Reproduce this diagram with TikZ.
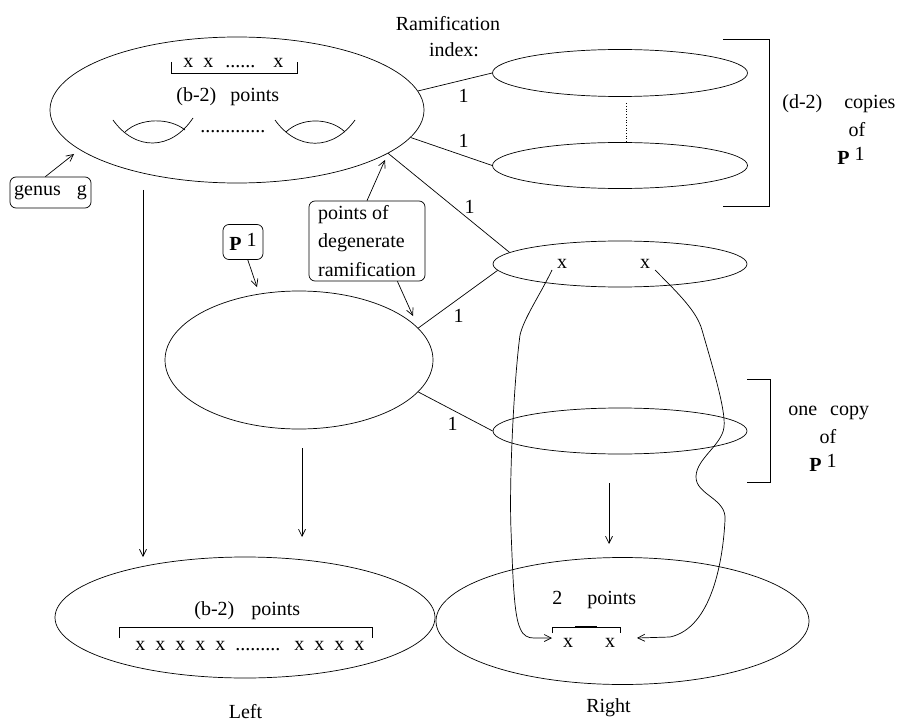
\documentclass[tikz,border=0pt]{standalone}
\usepackage{fontspec}
\setmainfont{Liberation Serif}
\usetikzlibrary{arrows.meta,shapes.geometric}
\newcommand{\Pone}{\textbf{P}\hspace{5pt}\raisebox{4pt}{1}}
\begin{document}
\begin{tikzpicture}[x=1pt,y=-1pt,line width=0.7pt,
  every node/.style={font=\fontsize{20}{27}\selectfont},
  ell/.style={draw,ellipse,inner sep=0pt},
  txt/.style={anchor=base,inner sep=0pt},
  txtw/.style={anchor=base west,inner sep=0pt},
  rbox/.style={draw,rounded corners=6pt,inner sep=0pt},
  arr/.style={-{Straight Barb[length=7pt,width=7pt]}},
  brk/.style={line width=0.7pt}]
\useasboundingbox (0,0) rectangle (899,722);
% ellipses
\node[ell,minimum width=374,minimum height=146] (T) at (237,110) {};
\node[ell,minimum width=268,minimum height=138] (M) at (299,360) {};
\node[ell,minimum width=255,minimum height=47] (R1) at (620,73) {};
\node[ell,minimum width=255,minimum height=46] (R2) at (620,165.5) {};
\node[ell,minimum width=254,minimum height=46] (R3) at (620,264) {};
\node[ell,minimum width=254,minimum height=46] (R4) at (620,431) {};
\node[ell,minimum width=380,minimum height=121] (BL) at (245,617.5) {};
\node[ell,minimum width=373,minimum height=127] (BR) at (622.5,621) {};
% top ellipse contents
\node[txt] (ram) at (448,31) {Ramification};
\node[txt] (idx) at (454,57) {index:};
\node[txtw] (tx) at (183,68) {x\hspace{10pt}x\hspace{12pt}......\hspace{18pt}x};
\draw[brk] (171,62) -- (171,73) -- (297,73) -- (297,62);
\node[txtw] (tb) at (176,102) {(b-2)\hspace{14pt}points};
\draw (113,120) .. controls (135,151) and (171,151) .. (193,118);
\draw (125,132) .. controls (140,117.5) and (170,117.5) .. (185,130);
\draw (275,120) .. controls (297,151) and (333,151) .. (355,120);
\draw (286,132) .. controls (301,117.3) and (330,117.3) .. (345,132);
\node[txtw] (tdots) at (200,133) {.............};
% index labels
\node[txt] (l1) at (463.5,103) {1};
\node[txt] (l2) at (463.5,148) {1};
\node[txt] (l3) at (469.5,213) {1};
\node[txt] (l4) at (458.5,322) {1};
\node[txt] (l5) at (452.5,430) {1};
% connectors
\draw (T.6) -- (R1.west);
\draw (T.-9) -- (R2.west);
\draw (T.-16) -- (R3.174);
\draw (M.15) -- (R3.183);
\draw (M.-15) -- (R4.west);
\draw[dotted] ([xshift=6pt,yshift=-6.5pt]R1.south) -- ([xshift=6pt]R2.north);
% right brackets and texts
\draw[brk] (723,39) -- (769,39) -- (769,206) -- (723,206);
\node[txtw] (dc) at (782,109) {(d-2)\hspace{22pt}copies};
\node[txt] (dof) at (857,137) {of};
\node[txt] (dP) at (851,165) {\Pone};
\draw[brk] (747,379) -- (770,379) -- (770,482) -- (747,482);
\node[txtw] (oc) at (788,415) {one\hspace{13pt}copy};
\node[txt] (oof) at (828,443) {of};
\node[txt] (oP) at (823,471) {\Pone};
% boxes
\node[rbox,minimum width=81,minimum height=31] (g) at (50.5,192.5) {genus\hspace{16pt}g};
\node[rbox,minimum width=116,minimum height=80,align=left,font=\fontsize{20}{28.5}\selectfont] (pd) at (367,241) {points of\\degenerate\\ramification};
\node[rbox,minimum width=40,minimum height=35] (p1) at (243,242) {\Pone};
\coordinate (gt) at (74,154);
\draw[arr] (g.108) -- (gt);
\coordinate (pt1) at (385,160);
\draw[arr] (pd.north) -- (pt1);
\coordinate (pt2) at (413,316);
\draw[arr] (pd.-53) -- (pt2);
\coordinate (pp) at (257,287);
\draw[arr] (p1.-75) -- (pp);
% vertical arrows
\coordinate (v1s) at (143,190); \coordinate (v1e) at (143,557);
\coordinate (v2s) at (302,448); \coordinate (v2e) at (302,537);
\coordinate (v3s) at (609,483); \coordinate (v3e) at (609,544);
\draw[arr] (v1s) -- (v1e);
\draw[arr] (v2s) -- (v2e);
\draw[arr] (v3s) -- (v3e);
% x's on R3 and curves
\node[txt] (x1) at (562,268) {x};
\node[txt] (x2) at (645,268) {x};
\coordinate (cl0) at (552,270);
\coordinate (cl1) at (552,638);
\draw[arr] (cl0) .. controls (540,295) and (524,318) .. (520,335) .. controls (514,380) and (509,480) .. (511,530) .. controls (513,580) and (514,615) .. (520,628) .. controls (523,636) and (528,638) .. (534,638) -- (cl1);
\coordinate (cr0) at (655,270);
\coordinate (cr1) at (637,638);
\draw[arr] (cr0) .. controls (680,295) and (697,312) .. (702,330) .. controls (712,365) and (726,410) .. (724,427) .. controls (722,445) and (697,458) .. (696,476) .. controls (695,495) and (727,498) .. (725,520) .. controls (723,560) and (712,628) .. (670,637) -- (cr1);
% bottom left
\node[txtw] (bb) at (194,615) {(b-2)\hspace{17pt}points};
\draw[brk] (119,638) -- (119,627) -- (372,627) -- (372,638);
\node[txtw] (bx) at (135,650) {x\hspace{10pt}x\hspace{10pt}x\hspace{10pt}x\hspace{10pt}x\hspace{10pt}.........\hspace{14pt}x\hspace{10pt}x\hspace{10pt}x\hspace{10pt}x};
\node[txt] (left) at (245.5,718) {Left};
% bottom right
\node[txtw] (b2) at (552,604) {2\hspace{25pt}points};
\draw[brk] (552,633) -- (552,627) -- (620,627) -- (620,633);
\draw[line width=1.8pt] (575,627) -- (597,627);
\node[txt] (bx1) at (568,647) {x};
\node[txt] (bx2) at (610,647) {x};
\node[txt] (right) at (608.5,712) {Right};
\end{tikzpicture}
\end{document}
